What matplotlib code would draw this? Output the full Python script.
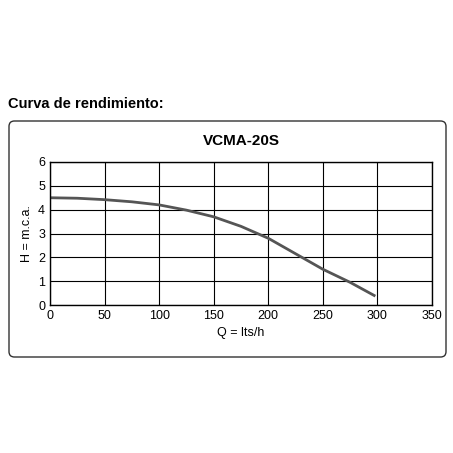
import matplotlib.pyplot as plt
from matplotlib.patches import FancyBboxPatch

plt.rcParams['font.family'] = ['Liberation Sans', 'DejaVu Sans']

# curve
q = [0, 25, 50, 75, 100, 125, 150, 175, 200, 225, 250, 275, 297]
h = [4.5, 4.48, 4.42, 4.33, 4.2, 3.98, 3.7, 3.3, 2.8, 2.15, 1.5, 0.95, 0.4]
xticks = [0, 50, 100, 150, 200, 250, 300, 350]
yticks = [0, 1, 2, 3, 4, 5, 6]

W = H = 453
fig = plt.figure(figsize=(W / 100, H / 100), dpi=100)

fig.text(8 / W, 1 - 104 / H, "Curva de rendimiento:", fontsize=10.5,
         fontweight="bold", ha="left", va="center")

box = FancyBboxPatch((9 / W, 1 - 357 / H), 437 / W, 236 / H,
                     boxstyle="round,pad=0,rounding_size=0.012",
                     transform=fig.transFigure, fill=False, lw=1, ec="#333333")
fig.patches.append(box)

ax = fig.add_axes([50 / W, 1 - 305 / H, 382 / W, 143 / H])
ax.plot(q, h, color="#555555", lw=2)
ax.set_xlim(0, 350)
ax.set_ylim(0, 6)
ax.set_xticks(xticks)
ax.set_yticks(yticks)
ax.grid(True, color="black", lw=0.8)
ax.tick_params(length=0, labelsize=9)
for s in ax.spines.values():
    s.set_linewidth(1)
ax.set_xlabel("Q = lts/h", fontsize=9, labelpad=4)
ax.set_ylabel("H = m.c.a.", fontsize=9, labelpad=4)
ax.set_title("VCMA-20S", fontsize=11, fontweight="bold", pad=12)

fig.savefig("out.png", dpi=100)
